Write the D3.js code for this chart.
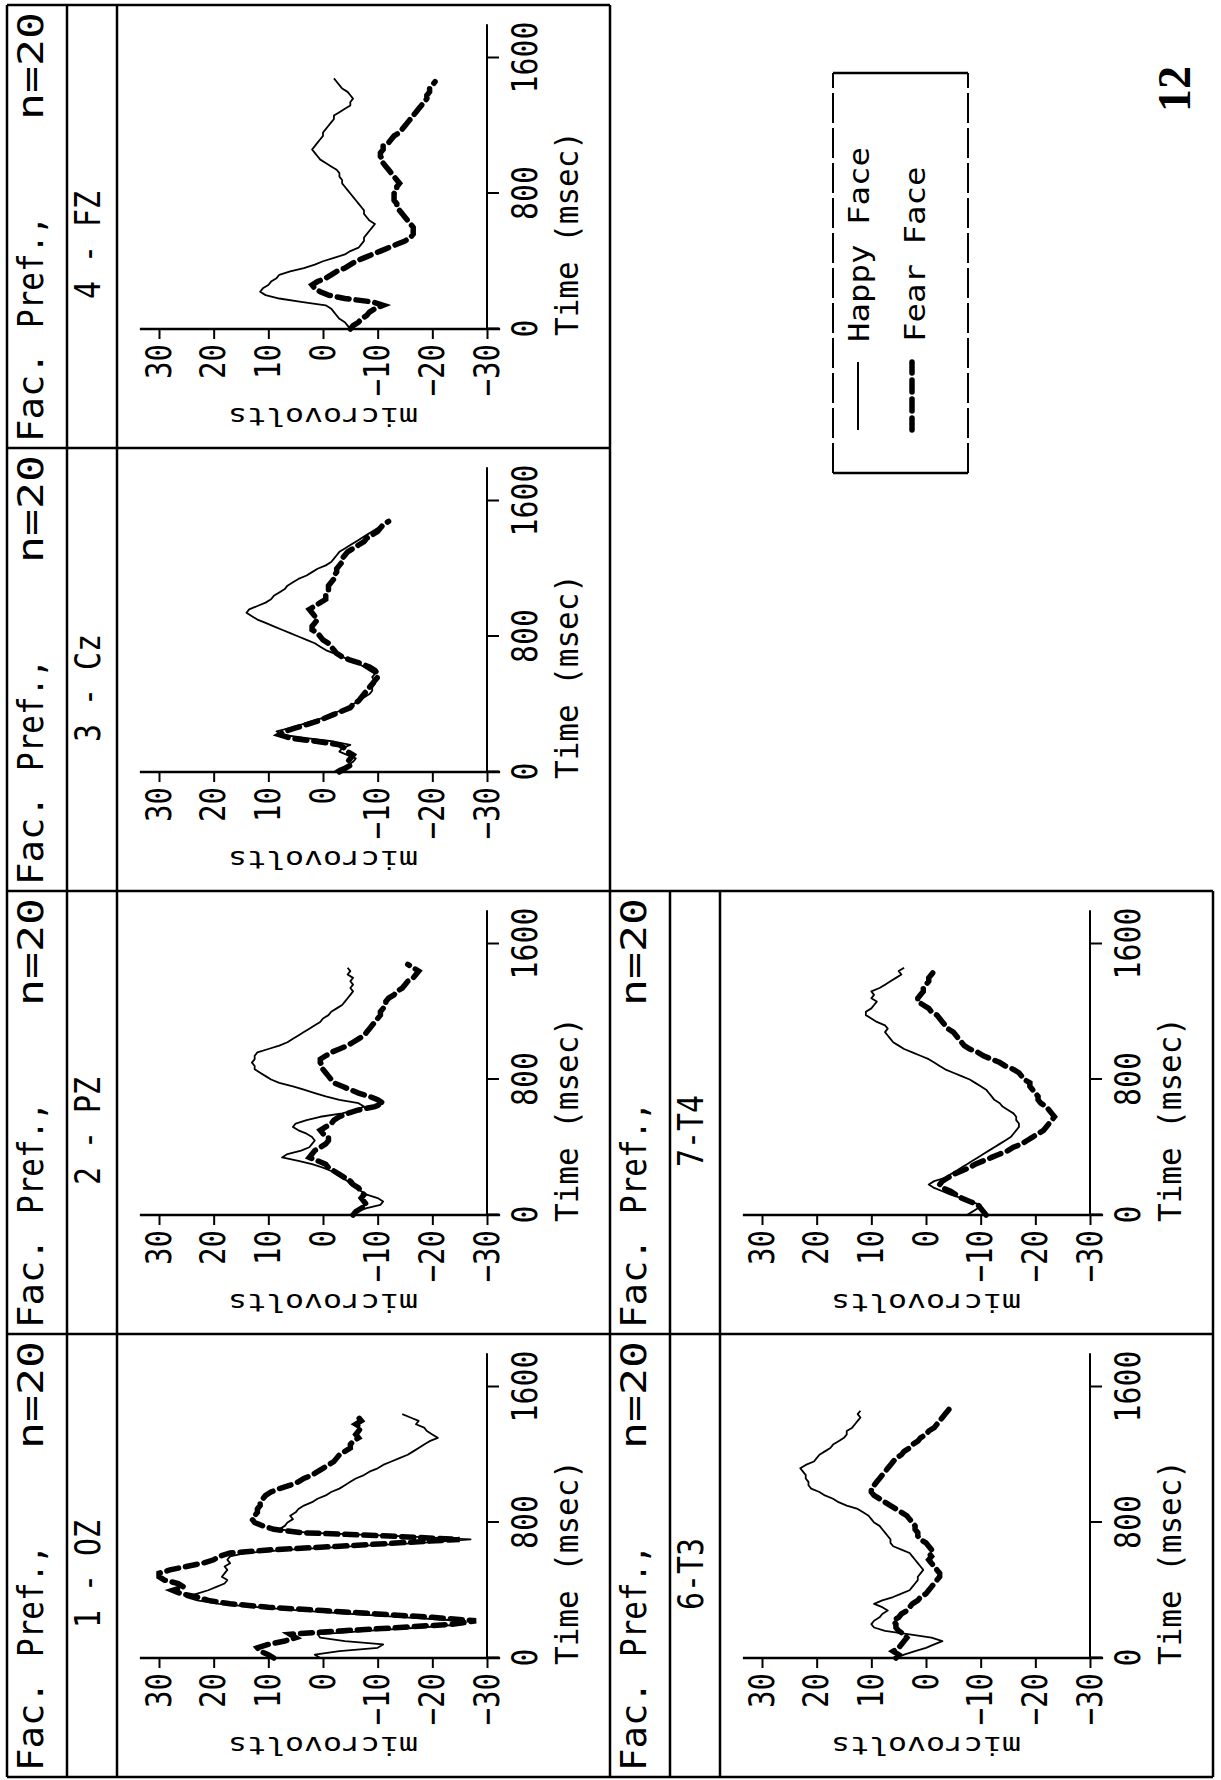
<!DOCTYPE html>
<html>
<head>
<meta charset="utf-8">
<script src="https://cdn.jsdelivr.net/npm/d3@7"></script>
<style>
html, body { margin: 0; padding: 0; background: #fff; }
svg { display: block; }
</style>
</head>
<body>
<div id="chart"></div>
<script>
// sample times of the averaged waveforms (msec)
const timeMs = [
	0, 20, 40, 60, 80, 100, 120, 140, 160, 180,
	200, 220, 240, 260, 280, 300, 320, 340, 360, 380,
	400, 420, 440, 460, 480, 500, 520, 540, 560, 580,
	600, 620, 640, 660, 680, 700, 720, 740, 760, 780,
	800, 820, 840, 860, 880, 900, 920, 940, 960, 980,
	1000, 1020, 1040, 1060, 1080, 1100, 1120, 1140, 1160, 1180,
	1200, 1220, 1240, 1260, 1280, 1300, 1320, 1340, 1360, 1380,
	1400, 1420, 1440, 1460, 1480
];
const uvTicks = [30, 20, 10, 0, -10, -20, -30];
const timeTicks = [0, 800, 1600];
const titleWords = ["Fac.", "Pref.,", "n=20"];
const seriesNames = ["Happy Face", "Fear Face"];
const pageNumber = "12";

// microvolts, one value per timeMs step
const ozHappy = [
	0.5, 1.5, -3, -10, -11, -4, 0.5, 1, -8, -18,
	-26, -25, -15, -5, 4, 12, 19, 23, 25, 23,
	21, 19.5, 18, 17.5, 18.5, 18, 17.5, 18, 17, 17.5,
	17, 14, 6, -6, -18, -27, -14, 3, 8, 7,
	6.5, 5.5, 6, 5, 4.5, 3.5, 2, 1, -0.5, -1.5,
	-3, -4, -5, -6, -7.5, -8.5, -10, -11, -12.5, -14,
	-15.5, -16.5, -17.5, -18.5, -19.5, -21, -20, -19, -18.5, -17,
	-17.5, -16, -14.5
];
const ozFear = [
	9, 10, 11.5, 12, 10, 7, 5, 6, -3, -14,
	-24, -28, -20, -10, 0, 10, 17, 21, 23, 26,
	27.5, 25.5, 26.5, 29, 30, 30, 28, 25, 22, 20,
	19, 17, 9, -3, -14, -25, -12, 4, 9, 11,
	12.5, 13, 12.5, 12, 12, 11.5, 11.5, 11, 10.5, 9.5,
	8, 6, 4.5, 3.5, 2, 1, 0, -1, -2, -2.5,
	-3, -4, -5, -5, -5.5, -6.5, -6, -6.5, -7, -6,
	-7, -6.5, -6
];
const pzHappy = [
	-5, -6, -8, -10.5, -11, -10, -8, -7, -6, -5,
	-4.5, -3.5, -2.5, -1.5, 0, 2, 4.5, 7.5, 6.5, 4,
	2.5, 2, 1.5, 2, 3, 4.5, 5.5, 5, 3, 0.5,
	-3.5, -6, -7.5, -6.5, -3, -0.5, 1.5, 3.5, 5.5, 8,
	9.5, 10.5, 11.5, 12.5, 12.5, 13, 12.5, 12.5, 12, 10,
	8, 6.5, 5.5, 4.5, 3.5, 2.5, 1.5, 0.5, 0, -1,
	-1.5, -2.5, -3.5, -4, -4.5, -5, -5.5, -5, -5.5, -5,
	-5.5, -4.5, -5, -4.5
];
const pzFear = [
	-5.5, -6, -7, -8, -7.5, -7, -7.5, -7, -6.5, -5.5,
	-5, -4, -3, -2, -1, -0.5, 1, 2.5, 2, 1.5,
	0.5, -0.5, -1, -1, 0, 0.5, -0.5, -1.5, -2, -3,
	-4.5, -6.5, -9.5, -11, -10, -8.5, -6.5, -5, -3.5, -2,
	-1.5, -1, -0.5, 0, 0, 0.5, 0.5, -0.5, -1.5, -3,
	-4.5, -5.5, -6.5, -7.5, -8, -8.5, -9, -9.5, -10, -10.5,
	-10.5, -11, -11.5, -11.5, -12, -13, -13.5, -14.5, -15, -15.5,
	-16.5, -17, -17.5, -16.5, -15.5
];
const czHappy = [
	-2, -3, -4.5, -5.5, -6, -4.5, -3, -3.5, -5, -2,
	3, 7.5, 8.5, 6, 4, 2, 0, -1.5, -3, -4.5,
	-5.5, -6.5, -7.5, -8.5, -9, -9, -9.5, -9.5, -9, -9.5,
	-8.5, -7.5, -6.5, -5, -3.5, -2, -0.5, 0.5, 1.5, 3,
	4.5, 6, 7.5, 9, 10.5, 12, 13, 14, 13.5, 12,
	10.5, 9.5, 9, 8, 7, 6.5, 5.5, 4.5, 3, 2,
	1, -0.5, -1.5, -2, -2.5, -3, -4, -5, -6, -7,
	-8, -9, -10, -11
];
const czFear = [
	-3, -4, -5, -4.5, -5, -5.5, -4.5, -4, -3, 1,
	6, 8, 7, 5, 3, 1, -0.5, -2, -3.5, -5,
	-5.5, -6.5, -7, -7.5, -8, -8.5, -9, -9.5, -10, -10,
	-9.5, -8.5, -7, -5, -3.5, -2.5, -2, -1.5, -1, 0,
	0.5, 1, 2, 2, 1.5, 1, 1.5, 2, 2.5, 1.5,
	0.5, -0.5, -0.5, -1, -1, -1, -1.5, -2, -2, -2.5,
	-2.5, -3, -3.5, -3.5, -4, -4.5, -5.5, -6.5, -7.5, -8,
	-9, -10, -10.5, -11, -12
];
const fzHappy = [
	-5, -4.5, -4, -3, -2.5, -2, -1.5, -0.5, 4, 8,
	10.5, 11.5, 11, 10, 9.5, 8.5, 8, 6, 3.5, 1.5,
	0, -2, -4, -5, -6.5, -7, -7.5, -7.5, -8, -8.5,
	-9, -9.5, -8.5, -8, -7.5, -7.5, -7, -6.5, -6, -5.5,
	-5, -4.5, -4, -3.5, -3.5, -3, -3, -2.5, -1.5, -0.5,
	0.5, 1, 1.5, 2, 1.5, 1, 0.5, 0, 0, -0.5,
	-1, -1.5, -2, -2, -3, -4, -5, -5, -5.5, -5,
	-4.5, -3.5, -3, -2.5, -2
];
const fzFear = [
	-5, -5.5, -6.5, -7, -8, -8.5, -9.5, -11, -9, -4,
	-1, 0.5, 1.5, 2, 1, -0.5, -1.5, -2.5, -4, -5,
	-6, -7.5, -9, -10.5, -12, -13.5, -15, -16, -16.5, -16.5,
	-16.5, -16, -15.5, -15, -14.5, -14, -13.5, -13.5, -13, -13,
	-13, -13.5, -13.5, -14, -13.5, -13, -12.5, -12, -11.5, -11,
	-11, -10.5, -10.5, -11, -11, -12, -12.5, -13, -14, -14.5,
	-15, -15.5, -16, -16.5, -17, -17.5, -18, -18.5, -19, -19,
	-19.5, -19.5, -20, -20.5
];
const t3Happy = [
	5.5, 4, 2, 0, -1.5, -3, -1, 3, 7.5, 9.5,
	10, 9.5, 8.5, 8, 7, 8, 9.5, 8, 6, 4.5,
	3, 2.5, 2, 1.5, 1.5, 1, 0.5, 1, 1.5, 2,
	2.5, 3, 4.5, 6, 6.5, 6.5, 7, 7.5, 8, 8.5,
	9.5, 10, 10.5, 11.5, 12.5, 14.5, 16, 17, 18.5, 19.5,
	21, 21.5, 21.5, 22, 22, 22.5, 23, 22, 20.5, 20,
	19.5, 18.5, 17.5, 17, 16, 15, 14.5, 14.5, 13.5, 13,
	12.5, 12, 12.5, 12
];
const t3Fear = [
	5.5, 5, 6, 5, 4.5, 4, 3.5, 4, 5, 5.5,
	5.5, 6, 5, 4.5, 3.5, 3, 2.5, 1.5, 1, 0,
	-0.5, -1, -1.5, -2, -2.5, -2.5, -2, -1.5, -1, -0.5,
	-1, -0.5, -1, -0.5, 0, 1, 1.5, 1.5, 2, 2,
	2.5, 3, 3.5, 4.5, 5.5, 6.5, 7.5, 8.5, 9.5, 10,
	10, 9.5, 9, 8.5, 8, 7.5, 7, 6.5, 6, 5.5,
	4.5, 4, 3, 2.5, 1.5, 1, 0, -0.5, -1.5, -2,
	-2.5, -3, -3.5, -4, -4.5
];
const t4Happy = [
	-7.5, -8.5, -9.5, -10, -8, -6.5, -4.5, -3, -1.5, -0.5,
	-1.5, -3.5, -4.5, -5.5, -6.5, -7.5, -8.5, -9.5, -10.5, -11.5,
	-12.5, -13.5, -14.5, -15.5, -16, -16.5, -17, -17, -16.5, -16.5,
	-16, -15, -14, -13.5, -12.5, -12, -11.5, -11, -10, -9,
	-8, -6.5, -5, -3.5, -2.5, -1.5, -0.5, 1, 2.5, 4,
	5, 6, 6.5, 7, 7.5, 7, 7.5, 9, 10, 11,
	11, 10, 9.5, 9, 10, 9.5, 10, 8.5, 7.5, 6.5,
	5.5, 4.5, 5, 4
];
const t4Fear = [
	-11, -10.5, -10, -9.5, -8, -6.5, -5.5, -4.5, -3, -2.5,
	-3, -4, -5, -6.5, -8, -9, -10.5, -12, -13.5, -15,
	-16, -17.5, -18.5, -19.5, -20.5, -21.5, -22, -22.5, -23, -23.5,
	-23, -22.5, -22, -21, -20.5, -20.5, -20, -19.5, -19, -19,
	-18, -17.5, -17, -16, -14.5, -13.5, -12, -10.5, -9.5, -8,
	-7, -6.5, -6, -5.5, -5, -4, -3.5, -3, -2.5, -2,
	-1, -0.5, 0.5, 1.5, 1.5, 1, 0.5, 0.5, 0, -0.5,
	-0.5, -1, -1.5, -2
];

const panels = [
	{label: "1 - OZ", col: 0, row: 0, happy: ozHappy, fear: ozFear},
	{label: "2 - PZ", col: 1, row: 0, happy: pzHappy, fear: pzFear},
	{label: "3 - Cz", col: 2, row: 0, happy: czHappy, fear: czFear},
	{label: "4 - FZ", col: 3, row: 0, happy: fzHappy, fear: fzFear},
	{label: "6-T3", col: 0, row: 1, happy: t3Happy, fear: t3Fear},
	{label: "7-T4", col: 1, row: 1, happy: t4Happy, fear: t4Fear}
];

var W = 1221, H = 1780;
var PW = 443, LX0 = 3, ROW0 = 7, ROW_H = 603;
var mono = "'DejaVu Sans Mono', monospace";
var FEAR_DASH = "12 7";

var svg = d3.select("#chart")
	.append("svg")
		.attr("width", W)
		.attr("height", H);
svg.append("rect").attr("width", W).attr("height", H).attr("fill", "#fff");

// the sheet is printed sideways: draw it in landscape and turn it a quarter left
var page = svg.append("g")
	.attr("transform", `translate(0,${H}) rotate(-90)`);

function squeeze(sel, adv) {
	sel.attr("textLength", function() { return this.textContent.length * adv; })
		.attr("lengthAdjust", "spacingAndGlyphs");
}

// grid of boxes
var frame = page.append("g").attr("stroke", "#000").attr("stroke-width", 2.5).attr("fill", "none");
var r1 = ROW0 + ROW_H;
[ROW0, ROW0 + 60, ROW0 + 110, r1].forEach(function(yy) {
	frame.append("line").attr("x1", LX0).attr("x2", LX0 + 4 * PW).attr("y1", yy).attr("y2", yy);
});
[0, 1, 2, 3, 4].forEach(function(c) {
	frame.append("line").attr("x1", LX0 + c * PW).attr("x2", LX0 + c * PW).attr("y1", ROW0).attr("y2", r1);
});
[r1 + 60, r1 + 110, r1 + ROW_H].forEach(function(yy) {
	frame.append("line").attr("x1", LX0).attr("x2", LX0 + 2 * PW).attr("y1", yy).attr("y2", yy);
});
[0, 1, 2].forEach(function(c) {
	frame.append("line").attr("x1", LX0 + c * PW).attr("x2", LX0 + c * PW).attr("y1", r1).attr("y2", r1 + ROW_H);
});

panels.forEach(function(p) {
	var g = page.append("g")
		.attr("transform", `translate(${LX0 + p.col * PW},${ROW0 + p.row * ROW_H})`);

	var x = d3.scaleLinear().domain([0, 1600]).range([119, 390]);
	var y = d3.scaleLinear().domain([30, -30]).range([152, 480]);

	// header: "Fac. Pref., n=20" and electrode
	var hx = [6, 120, 436], hlen = [90, 112, 108];
	titleWords.forEach(function(w, i) {
		g.append("text")
			.attr("x", hx[i]).attr("y", 36)
			.attr("text-anchor", i == 2 ? "end" : "start")
			.attr("font-family", mono).attr("font-size", 36)
			.attr("textLength", hlen[i]).attr("lengthAdjust", "spacingAndGlyphs")
			.text(w);
	});
	g.append("text")
		.attr("x", 203).attr("y", 93)
		.attr("text-anchor", "middle")
		.attr("font-family", mono).attr("font-size", 35)
		.text(p.label)
		.call(squeeze, 18);

	// axes
	var ya = g.append("g")
		.attr("transform", `translate(${x(0)},0)`)
		.call(d3.axisLeft(y).tickValues(uvTicks).tickSize(10).tickPadding(5)
			.tickFormat(function(d) { return d < 0 ? "\u2212" + (-d) : String(d); }));
	ya.select(".domain").remove();
	ya.selectAll("line").attr("stroke-width", 2);
	ya.selectAll("text").attr("font-family", mono).attr("font-size", 35).call(squeeze, 17.5);

	var xa = g.append("g")
		.attr("transform", `translate(0,${y(-30)})`)
		.call(d3.axisBottom(x).tickValues(timeTicks).tickSize(12).tickPadding(13)
			.tickFormat(function(d) { return String(d); }));
	xa.select(".domain").remove();
	xa.selectAll("line").attr("stroke-width", 2);
	xa.selectAll("text").attr("font-family", mono).attr("font-size", 35).call(squeeze, 18);

	g.append("line")
		.attr("x1", x(0)).attr("x2", x(0)).attr("y1", y(33.5)).attr("y2", y(-32.4))
		.attr("stroke", "#000").attr("stroke-width", 2.5);
	g.append("line")
		.attr("x1", x(0)).attr("x2", x(1800)).attr("y1", y(-30)).attr("y2", y(-30))
		.attr("stroke", "#000").attr("stroke-width", 2);

	g.append("text")
		.attr("transform", `translate(40,${y(0)}) rotate(-90)`)
		.attr("text-anchor", "middle")
		.attr("font-family", mono).attr("font-size", 25)
		.attr("textLength", 190).attr("lengthAdjust", "spacingAndGlyphs")
		.text("microvolts");
	g.append("text")
		.attr("x", 112).attr("y", 571)
		.attr("font-family", mono).attr("font-size", 32)
		.attr("textLength", 205).attr("lengthAdjust", "spacingAndGlyphs")
		.text("Time (msec)");

	// waveforms
	var line = d3.line()
		.x(function(v, i) { return x(timeMs[i]); })
		.y(function(v) { return y(v); });
	g.append("path")
		.datum(p.happy)
		.attr("fill", "none").attr("stroke", "#000").attr("stroke-width", 1.8)
		.attr("stroke-linejoin", "round")
		.attr("d", line);
	g.append("path")
		.datum(p.fear)
		.attr("fill", "none").attr("stroke", "#000").attr("stroke-width", 5.5)
		.attr("stroke-dasharray", FEAR_DASH).attr("stroke-linecap", "round")
		.attr("d", line);
});

// legend box
var leg = page.append("g").attr("stroke", "#000").attr("fill", "none");
leg.append("line").attr("x1", 1307).attr("x2", 1307).attr("y1", 833).attr("y2", 968).attr("stroke-width", 2.5);
leg.append("line").attr("x1", 1707).attr("x2", 1707).attr("y1", 833).attr("y2", 968).attr("stroke-width", 2.5);
leg.append("line").attr("x1", 1307).attr("x2", 1707).attr("y1", 833).attr("y2", 833).attr("stroke-width", 2).attr("stroke-dasharray", "30 5");
leg.append("line").attr("x1", 1307).attr("x2", 1707).attr("y1", 968).attr("y2", 968).attr("stroke-width", 2).attr("stroke-dasharray", "30 5");

var legY = [869, 925];
seriesNames.forEach(function(name, i) {
	var sample = page.append("line")
		.attr("x1", 1350).attr("x2", 1418)
		.attr("y1", legY[i] - 11 - i * 2).attr("y2", legY[i] - 11 - i * 2)
		.attr("stroke", "#000");
	if (i == 0) sample.attr("stroke-width", 2);
	else sample.attr("stroke-width", 5.5).attr("stroke-dasharray", FEAR_DASH).attr("stroke-linecap", "round");
	page.append("text")
		.attr("x", 1438).attr("y", legY[i])
		.attr("font-family", mono).attr("font-size", 29)
		.text(name)
		.call(squeeze, 19.5);
});

page.append("text")
	.attr("x", 1668).attr("y", 1190)
	.attr("font-family", "'Liberation Serif', serif").attr("font-weight", "bold").attr("font-size", 46)
	.text(pageNumber);
</script>
</body>
</html>
